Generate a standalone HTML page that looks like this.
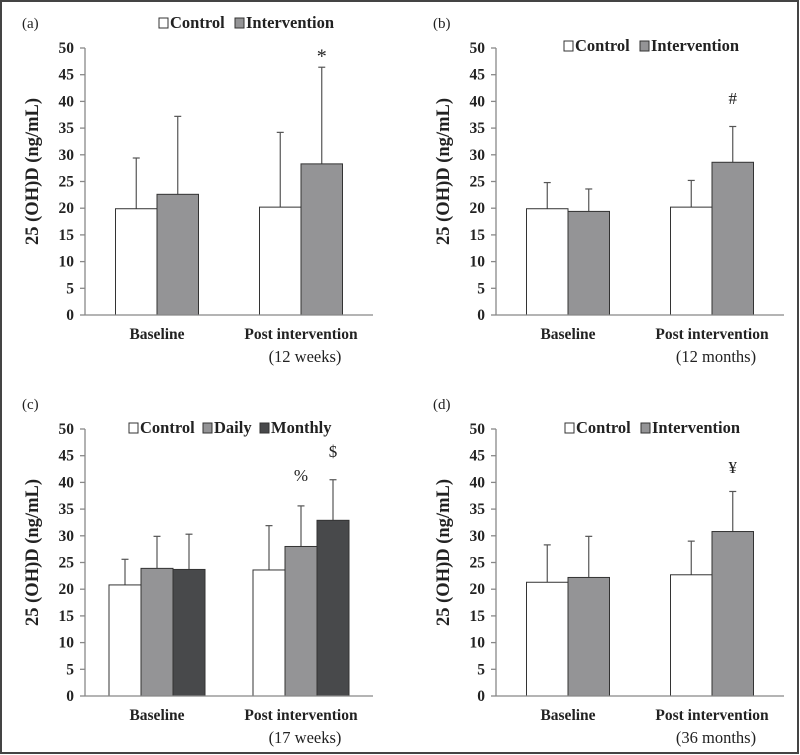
<!DOCTYPE html>
<html><head><meta charset="utf-8"><style>
html,body{margin:0;padding:0;background:#fff}
svg{display:block;font-family:"Liberation Serif",serif}
svg text{font-family:"Liberation Serif",serif}
</style></head><body>
<svg id="fig" width="800" height="755" viewBox="0 0 800 755" xmlns="http://www.w3.org/2000/svg">
<rect x="1" y="1" width="797" height="752" fill="#fff" stroke="#444" stroke-width="2"/>
</svg>
<script>
const categories = ["Baseline", "Post intervention"];
const subtitlesA = "(12 weeks)", subtitlesB = "(12 months)", subtitlesC = "(17 weeks)", subtitlesD = "(36 months)";
const yTicks = [0,5,10,15,20,25,30,35,40,45,50];
// panel a
const aControl = [19.9, 20.2], aControlErr = [29.4, 34.2];
const aInterv = [22.6, 28.3], aIntervErr = [37.2, 46.4];
// panel b
const bControl = [19.9, 20.2], bControlErr = [24.8, 25.2];
const bInterv = [19.4, 28.6], bIntervErr = [23.6, 35.3];
// panel c
const cControl = [20.8, 23.6], cControlErr = [25.6, 31.9];
const cDaily = [23.9, 28.0], cDailyErr = [29.9, 35.6];
const cMonthly = [23.7, 32.9], cMonthlyErr = [30.3, 40.5];
// panel d
const dControl = [21.3, 22.7], dControlErr = [28.3, 29.0];
const dInterv = [22.2, 30.8], dIntervErr = [29.9, 38.3];

const NS = "http://www.w3.org/2000/svg";
const svg = document.getElementById("fig");
function el(tag, attrs, parent, text){
  const e = document.createElementNS(NS, tag);
  for (const k in attrs) e.setAttribute(k, attrs[k]);
  if (text !== undefined) e.textContent = text;
  (parent||svg).appendChild(e);
  return e;
}
const WHITE="#ffffff", GRAY="#949496", DARK="#48494b";

function panel(opt){
  const g = el("g", {});
  
  
  const x0 = opt.x0, x1 = opt.x0 + 288, yTop = opt.yTop, yBot = opt.yTop + 267;
  const yS = v => yBot - (v/50)*(yBot-yTop);
  const catW = (x1-x0)/categories.length;
  const xC = i => x0 + catW*(i+0.5);
  const pl = el("text", {x: opt.x0-63, y: opt.yTop-20, "font-size":15, fill:"#222"}, g, "("+opt.id+")");
  
  
  const yt = el("text", {x:0, y:0, "font-size":18.5, "font-weight":"bold", fill:"#222", "text-anchor":"middle",
    transform:`translate(${opt.x0-47},${(yTop+yBot)/2 - 10}) rotate(-90)`}, g, "25 (OH)D (ng/mL)");
  
  
  const ya = el("line", {x1:x0, y1:yTop, x2:x0, y2:yBot, stroke:"#888", "stroke-width":1.3}, g);
  
  
  yTicks.forEach(t=>{
    const tk = el("line", {x1:x0-5, y1:yS(t), x2:x0, y2:yS(t), stroke:"#888", "stroke-width":1.3}, g);
    
    
    const tl = el("text", {x:x0-11, y:yS(t)+5, "font-size":15.5, "font-weight":"bold", fill:"#222", "text-anchor":"end"}, g, t);
    
    
  });
  const n = opt.series.length;
  const bw = n===2 ? 41.5 : 32;
  opt.series.forEach((s, si)=>{
    s.vals.forEach((v,i)=>{
      const bx = xC(i) - bw*n/2 + si*bw;
      const cx = bx + bw/2;
      const eb = el("line", {x1:cx, y1:yS(s.err[i]), x2:cx, y2:yS(v), stroke:"#555", "stroke-width":1.2}, g);
      
      
      const ec = el("line", {x1:cx-3.5, y1:yS(s.err[i]), x2:cx+3.5, y2:yS(s.err[i]), stroke:"#555", "stroke-width":1.2}, g);
      
      
      const r = el("rect", {x:bx, y:yS(v), width:bw, height:yBot-yS(v), fill:s.color, stroke:"#333", "stroke-width":1}, g);
      
      
    });
  });
  const xa = el("line", {x1:x0, y1:yBot, x2:x1, y2:yBot, stroke:"#888", "stroke-width":1.3}, g);
  
  
  opt.marks.forEach(m=>{
    const si = m.series, i = 1;
    const cx = xC(i) - bw*n/2 + si*bw + bw/2;
    const mk = el("text", {x:cx, y:yS(m.at), "font-size":m.size||17, fill:"#222", "text-anchor":"middle"}, g, m.sym);
    
    
  });
  categories.forEach((c,i)=>{
    const t = el("text", {x:xC(i), y:yBot+24, "font-size":15.5, "font-weight":"bold", fill:"#222", "text-anchor":"middle"}, g, c);
    
    
  });
  const st = el("text", {x:xC(1)+4, y:yBot+47, "font-size":16.5, fill:"#222", "text-anchor":"middle"}, g, opt.sub);
  
  
  opt.legend.forEach(L=>{
    const lb = el("rect", {x:L.x, y:opt.legY-10, width:9, height:10, fill:L.color, stroke:"#333", "stroke-width":1}, g);
    
    
    const lt = el("text", {x:L.x+11, y:opt.legY, "font-size":16.5, "font-weight":"bold", fill:"#222"}, g, L.label);
    
    
  });
}

panel({id:"a", x0:85, yTop:48, sub:subtitlesA, legY:28,
  series:[{name:"Control", vals:aControl, err:aControlErr, color:WHITE},{name:"Intervention", vals:aInterv, err:aIntervErr, color:GRAY}],
  marks:[{series:1, at:47.3, sym:"*", size:20}],
  legend:[{x:159,label:"Control",color:WHITE},{x:235,label:"Intervention",color:GRAY}]});
panel({id:"b", x0:496, yTop:48, sub:subtitlesB, legY:51,
  series:[{name:"Control", vals:bControl, err:bControlErr, color:WHITE},{name:"Intervention", vals:bInterv, err:bIntervErr, color:GRAY}],
  marks:[{series:1, at:39.5, sym:"#"}],
  legend:[{x:564,label:"Control",color:WHITE},{x:640,label:"Intervention",color:GRAY}]});
panel({id:"c", x0:85, yTop:429, sub:subtitlesC, legY:433,
  series:[{name:"Control", vals:cControl, err:cControlErr, color:WHITE},{name:"Daily", vals:cDaily, err:cDailyErr, color:GRAY},{name:"Monthly", vals:cMonthly, err:cMonthlyErr, color:DARK}],
  marks:[{series:1, at:40.3, sym:"%"},{series:2, at:44.8, sym:"$"}],
  legend:[{x:129,label:"Control",color:WHITE},{x:203,label:"Daily",color:GRAY},{x:260,label:"Monthly",color:DARK}]});
panel({id:"d", x0:496, yTop:429, sub:subtitlesD, legY:433,
  series:[{name:"Control", vals:dControl, err:dControlErr, color:WHITE},{name:"Intervention", vals:dInterv, err:dIntervErr, color:GRAY}],
  marks:[{series:1, at:41.8, sym:"¥"}],
  legend:[{x:565,label:"Control",color:WHITE},{x:641,label:"Intervention",color:GRAY}]});
</script>
</body></html>
